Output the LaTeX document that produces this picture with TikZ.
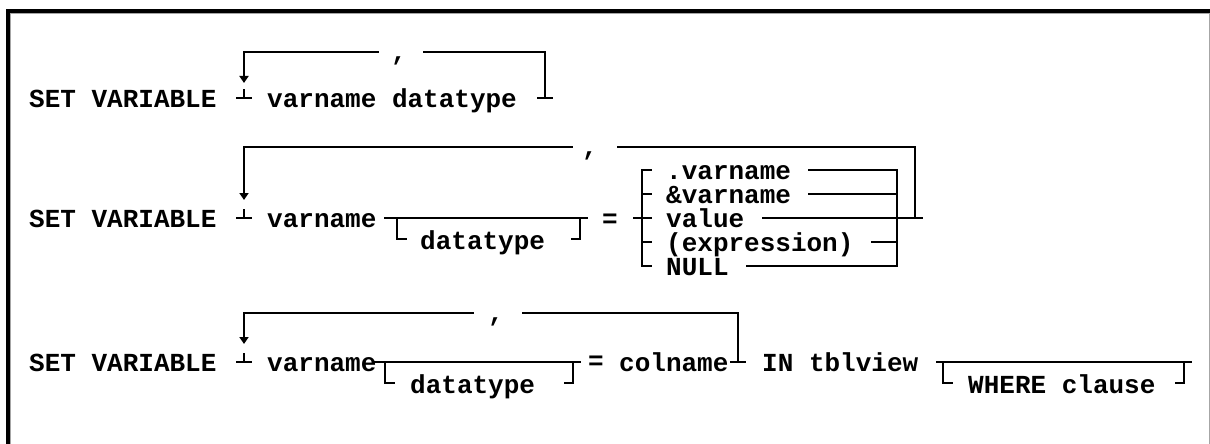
\documentclass[tikz,border=0pt]{standalone}
\usepackage{fontspec}
\setmonofont{Liberation Mono}
\usetikzlibrary{arrows.meta,calc}
\tikzset{
  kw/.style={font=\ttfamily\bfseries\fontsize{26}{30}\selectfont, inner sep=0pt, anchor=base west},
  sepmark/.style={font=\ttfamily\bfseries\fontsize{26}{30}\selectfont, inner sep=0pt, anchor=north},
  hl/.style={line width=1.5pt, line cap=rect},
  vl/.style={line width=2.6pt, line cap=rect},
  loopback/.style={line width=2.6pt, -{Triangle[length=7pt,width=9pt]}},
}
% stem and foot where a path meets the main line
\newcommand\stopmark[1]{%
  \draw[vl] ($(#1)+(0,-8)$) -- (#1);
  \draw[hl] ($(#1)+(-7,0)$) -- ($(#1)+(7,0)$);}
\begin{document}
\begin{tikzpicture}[x=1pt,y=-1pt]
\useasboundingbox (0,0) rectangle (1210,444);
% window frame
\fill[black] (6,9) rectangle (1210,13);
\fill[black] (6,9) rectangle (10,444);
\draw[black!35, line width=1pt] (10,13.5) -- (1209.5,13.5);
\draw[black!35, line width=1pt] (10.5,13) -- (10.5,444);
\draw[black!35, line width=1pt] (1209.5,13) -- (1209.5,444);

% ---------- first form ----------
\node[kw] (set1) at (29,107) {SET VARIABLE};
\coordinate (l1) at (244,52);
\coordinate (t1) at (244,98);
\coordinate (r1) at (545,52);
\coordinate (e1) at (545,98);
\draw[loopback] (l1) -- ++(0,31);
\stopmark{t1}
\node[kw] (vd1) at (267,107) {varname datatype};
\node[sepmark] (c1) at (399,57) {,};
\draw[hl] (l1) -- (378,52);
\draw[hl] (424,52) -- (r1);
\draw[vl] (r1) -- (e1);
\stopmark{e1}

% ---------- second form ----------
\node[kw] (set2) at (29,227) {SET VARIABLE};
\coordinate (l2) at (244,147);
\coordinate (t2) at (244,218);
\draw[loopback] (l2) -- ++(0,53);
\stopmark{t2}
\node[kw] (vn2) at (267,227) {varname};
% optional datatype
\coordinate (o2a) at (385,218);
\coordinate (o2b) at (587,218);
\draw[hl] (o2a) -- (o2b);
\draw[vl] (397,218) -- (397,239);
\draw[hl] (397,239) -- (406,239);
\draw[vl] (580,218) -- (580,239);
\draw[hl] (580,239) -- (572,239);
\node[kw] (dt2) at (420,249) {datatype};
\node[kw] (eq2) at (602,227) {=};
% choice of value
\draw[vl] (642,170) -- (642,266);
\draw[hl] (634,218) -- (642,218);
\foreach \yy in {170,194,218,242,266} {\draw[hl] (642,\yy) -- (651,\yy);}
\node[kw] (i1) at (666,179) {.varname};
\node[kw] (i2) at (666,203) {\&varname};
\node[kw] (i3) at (666,227) {value};
\node[kw] (i4) at (666,251) {(expression)};
\node[kw] (i5) at (666,275) {NULL};
\coordinate (q1) at (897,170);
\coordinate (q2) at (897,194);
\coordinate (q3) at (922,218);
\coordinate (q4) at (897,242);
\coordinate (q5) at (897,266);
\foreach \n in {1,...,5} {
  \path (i\n.east) ++(18,0) coordinate (s\n);
  \draw[hl] (s\n |- q\n) -- (q\n);
}
\draw[vl] (q1) -- (q5);
\coordinate (r2) at (915,147);
\draw[vl] (r2) -- (915,218);
\draw[hl] (l2) -- (572,147);
\node[sepmark] (c2) at (590,152) {,};
\draw[hl] (618,147) -- (r2);

% ---------- third form ----------
\node[kw] (set3) at (29,371) {SET VARIABLE};
\coordinate (l3) at (244,313);
\coordinate (t3) at (244,362);
\draw[loopback] (l3) -- ++(0,31);
\stopmark{t3}
\node[kw] (vn3) at (267,371) {varname};
% optional datatype
\draw[hl] (375,362) -- (580,362);
\draw[vl] (385,362) -- (385,383);
\draw[hl] (385,383) -- (394,383);
\draw[vl] (573,362) -- (573,383);
\draw[hl] (573,383) -- (565,383);
\node[kw] (dt3) at (410,393) {datatype};
\node[kw] (eq3) at (588,369) {=};
\node[kw] (cn3) at (619,371) {colname};
\coordinate (r3) at (738,313);
\coordinate (e3) at (738,362);
\draw[hl] (l3) -- (473,313);
\node[sepmark] (c3) at (496,318) {,};
\draw[hl] (523,313) -- (r3);
\draw[vl] (r3) -- (e3);
\stopmark{e3}
\node[kw] (in3) at (762,371) {IN tblview};
% optional WHERE clause
\draw[hl] (937,362) -- (1191,362);
\draw[vl] (943,362) -- (943,383);
\draw[hl] (943,383) -- (952,383);
\draw[vl] (1184,362) -- (1184,383);
\draw[hl] (1184,383) -- (1176,383);
\node[kw] (wh3) at (968,393) {WHERE clause};
\end{tikzpicture}
\end{document}
